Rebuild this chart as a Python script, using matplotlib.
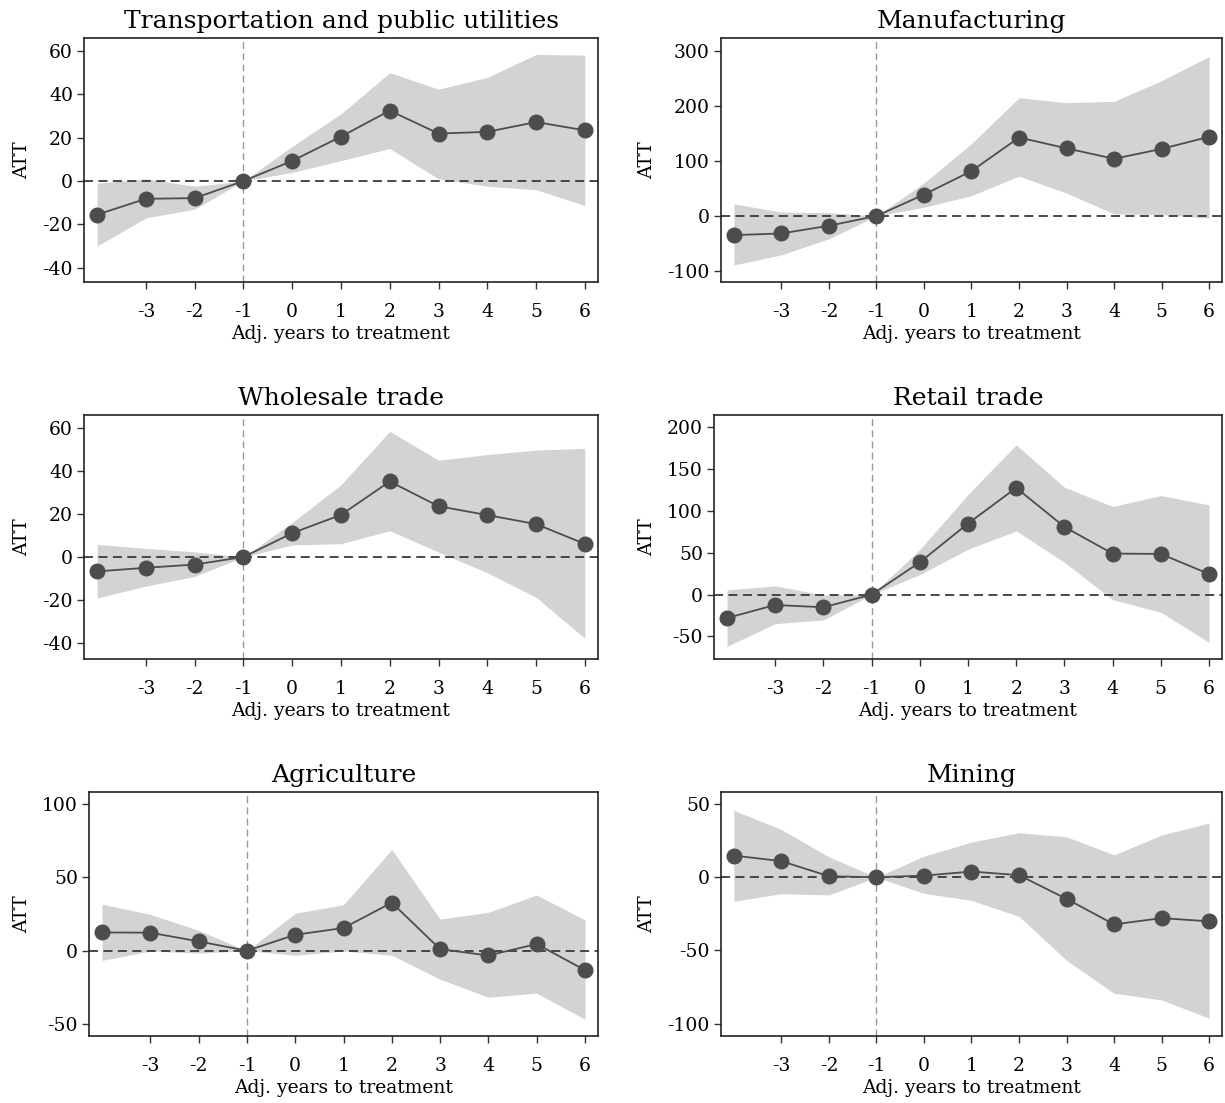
import matplotlib
matplotlib.use("Agg")
import matplotlib.pyplot as plt

plt.rcParams['font.family'] = ['DejaVu Serif']
plt.rcParams['axes.unicode_minus'] = False

# event time (first point at -4 is unlabeled on the axis)
event_time = [-4, -3, -2, -1, 0, 1, 2, 3, 4, 5, 6]
xtick_vals = [-3, -2, -1, 0, 1, 2, 3, 4, 5, 6]

titles = ["Transportation and public utilities", "Manufacturing",
          "Wholesale trade", "Retail trade", "Agriculture", "Mining"]

transport_att = [-15.5, -8.2, -7.9, 0, 9.3, 20.5, 32.5, 21.9, 22.7, 27.2, 23.4]
transport_hi = [-1, 1, -2.4, 0, 16, 31, 50, 42.4, 47.8, 58.4, 58.1]
transport_lo = [-30, -17, -13, 0, 4, 9.4, 15, 1, -2.4, -4, -11.3]

manuf_att = [-34.8, -31.7, -17.7, 0, 39, 81.7, 142.7, 123, 104, 122, 144]
manuf_hi = [22, 7.3, 6, 0, 60, 131.7, 215, 206, 208.5, 246, 290]
manuf_lo = [-89, -70.7, -41.5, 0, 15.9, 37, 72.6, 41.5, 3.7, 2.4, -3.7]

wholesale_att = [-6.7, -5.0, -3.5, 0, 11.1, 19.6, 35.1, 23.6, 19.5, 15.3, 6.1]
wholesale_hi = [5.9, 4, 2.4, 0, 16, 33.6, 58.4, 45, 47.6, 49.7, 50.5]
wholesale_lo = [-19.1, -13.5, -9, 0, 5.6, 6.2, 12.2, 2.3, -7.3, -18.7, -37.8]

retail_att = [-27.9, -12.4, -15.1, 0, 38.6, 84.9, 127.5, 80.9, 49, 48.6, 24.7]
retail_hi = [5.6, 10.4, -0.4, 0, 53.8, 119.5, 178.9, 128.3, 105.2, 118.3, 107.2]
retail_lo = [-61.8, -34.7, -30.3, 0, 23.9, 54.2, 76.1, 38.6, -6, -21.1, -57]

agri_att = [12.5, 12.3, 6.4, 0, 10.9, 15.5, 32.8, 1.1, -3.2, 4.6, -13.2]
agri_hi = [31.7, 24.8, 13.9, 0, 25.5, 31.4, 69, 21.6, 26.2, 38, 21]
agri_lo = [-6.6, -0.2, -1.6, 0, -3, -0.2, -3, -19.4, -31.7, -28.9, -46.7]

mining_att = [14.8, 11, 0.7, 0, 1.1, 3.9, 1.4, -14.8, -32.2, -27.9, -30.1]
mining_hi = [45.7, 32.6, 13.9, 0, 14.4, 24, 30.4, 27.6, 15.3, 28.8, 37]
mining_lo = [-16.4, -11.2, -12.1, 0, -11, -15.8, -26.7, -56.8, -79.2, -83.8, -96.3]

yticks_list = [[-40, -20, 0, 20, 40, 60], [-100, 0, 100, 200, 300],
               [-40, -20, 0, 20, 40, 60], [-50, 0, 50, 100, 150, 200],
               [-50, 0, 50, 100], [-100, -50, 0, 50]]
ylims = [(-46.6, 66.0), (-120, 323.6), (-47.4, 66.0), (-76.9, 214.5),
         (-58.1, 108.2), (-108.4, 58.2)]

series = [(transport_att, transport_hi, transport_lo),
          (manuf_att, manuf_hi, manuf_lo),
          (wholesale_att, wholesale_hi, wholesale_lo),
          (retail_att, retail_hi, retail_lo),
          (agri_att, agri_hi, agri_lo),
          (mining_att, mining_hi, mining_lo)]

W, H = 1225, 1103
fig = plt.figure(figsize=(W / 100, H / 100), dpi=100)

lefts = [84, 721, 84, 714, 89, 721]
rights = [598, 1222, 598, 1222, 598, 1222]
tops = [38, 38, 415, 415, 792, 792]
bottoms = [282, 282, 659, 659, 1036, 1036]

shade_col = "#d3d3d3"
line_col = "#4d4d4d"

for i in range(6):
    l, r, t, b = lefts[i], rights[i], tops[i], bottoms[i]
    ax = fig.add_axes([l / W, 1 - b / H, (r - l) / W, (b - t) / H])
    att, hi, lo = series[i]
    ax.fill_between(event_time, lo, hi, color=shade_col, linewidth=0, zorder=1)
    ax.axhline(0, color="#3a3a3a", linestyle=(0, (5, 3)), linewidth=1.3, zorder=2)
    ax.axvline(-1, color="#999999", linestyle=(0, (5, 3)), linewidth=1.0, zorder=2)
    ax.plot(event_time, att, color=line_col, linewidth=1.3, marker="o",
            markersize=10.5, markerfacecolor=line_col, markeredgecolor=line_col,
            zorder=3)
    ax.set_xlim(-4.27, 6.27)
    ax.set_ylim(*ylims[i])
    ax.set_xticks(xtick_vals)
    ax.set_xticklabels([str(v) for v in xtick_vals])
    ax.set_yticks(yticks_list[i])
    ax.set_yticklabels([str(v) for v in yticks_list[i]])
    ax.tick_params(axis="both", direction="out", length=5, width=1.0,
                   color="#333333", labelsize=13.5, pad=3)
    ax.tick_params(axis="x", pad=10)
    for s in ax.spines.values():
        s.set_linewidth(1.2)
        s.set_color("#222222")
    ax.set_title(titles[i], fontsize=18, pad=7)
    ax.set_xlabel("Adj. years to treatment", fontsize=13.5, labelpad=3)
    ax.set_ylabel("ATT", fontsize=13.5, labelpad=8)

fig.savefig("out.png", dpi=100)
